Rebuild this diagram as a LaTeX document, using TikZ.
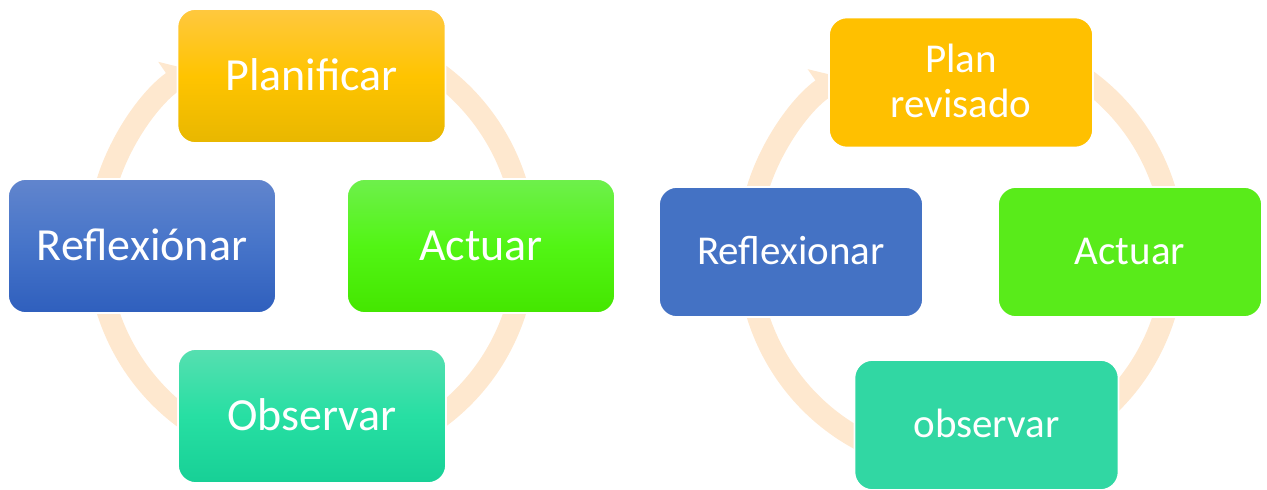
\documentclass[tikz,border=0pt]{standalone}
\usepackage{fontspec}
\setmainfont{Carlito}
\usetikzlibrary{arrows.meta}

\definecolor{ringpeach}{HTML}{FEE8CF}
% shaded boxes of the first cycle
\definecolor{planTop}{HTML}{FFC83F}
\definecolor{planMid}{HTML}{FFC400}
\definecolor{planBot}{HTML}{E8B700}
\definecolor{refTop}{HTML}{6185CD}
\definecolor{refMid}{HTML}{4674C9}
\definecolor{refBot}{HTML}{2F5FBD}
\definecolor{actTop}{HTML}{6EF04C}
\definecolor{actMid}{HTML}{52F514}
\definecolor{actBot}{HTML}{44E600}
\definecolor{obsTop}{HTML}{56DFB0}
\definecolor{obsMid}{HTML}{27DFA3}
\definecolor{obsBot}{HTML}{17D096}
% flat boxes of the second cycle
\definecolor{planFlat}{HTML}{FFC000}
\definecolor{refFlat}{HTML}{4472C4}
\definecolor{actFlat}{HTML}{59EB1A}
\definecolor{obsFlat}{HTML}{31D7A3}

\begin{document}
\begin{tikzpicture}[x=0.5pt,y=0.5pt,
  bigbox/.style={rounded corners=9pt, minimum width=134pt, minimum height=67pt,
    inner sep=0pt, draw=white, line width=0.8pt, text=white,
    font=\fontsize{23}{27}\selectfont, text height=14.5pt, text depth=0pt},
  smallbox/.style={rounded corners=9pt, minimum width=132pt, minimum height=65pt,
    inner sep=0pt, draw=white, line width=0.8pt, text=white, align=center,
    font=\fontsize{20.5}{22.5}\selectfont, text height=12.9pt, text depth=0pt},
  ring/.style={draw=ringpeach, line width=11pt,
    -{Triangle[length=11pt,width=24pt]}}]

\useasboundingbox (0,0) rectangle (1267,489);

% ---- first cycle ----
\coordinate (cL) at (311.5,243);
\draw[ring] (cL) ++(70:214) arc[start angle=70, end angle=-235.5, radius=214];

\node[bigbox, top color=planTop, bottom color=planBot, middle color=planMid]
  (planA) at (311.5,413) {Planificar};
\node[bigbox, top color=actTop, bottom color=actBot, middle color=actMid]
  (actA) at (481,243) {Actuar};
\node[bigbox, top color=obsTop, bottom color=obsBot, middle color=obsMid]
  (obsA) at (312,73) {Observar};
\node[bigbox, top color=refTop, bottom color=refBot, middle color=refMid]
  (refA) at (142,243) {Reflexiónar};

% ---- second cycle ----
\coordinate (cR) at (961,237);
\draw[ring] (cR) ++(70:213) arc[start angle=70, end angle=-235.3, radius=213];

% two-line label: height spans from the cap line of "Plan" to the baseline of "revisado"
\node[smallbox, fill=planFlat, text height=35.4pt] (planB) at (961,406.5) {Plan\\revisado};
\node[smallbox, fill=actFlat] (actB) at (1130,237) {Actuar};
\node[smallbox, fill=obsFlat] (obsB) at (986.5,64) {observar};
\node[smallbox, fill=refFlat] (refB) at (791,237) {Reflexionar};

\end{tikzpicture}
\end{document}
